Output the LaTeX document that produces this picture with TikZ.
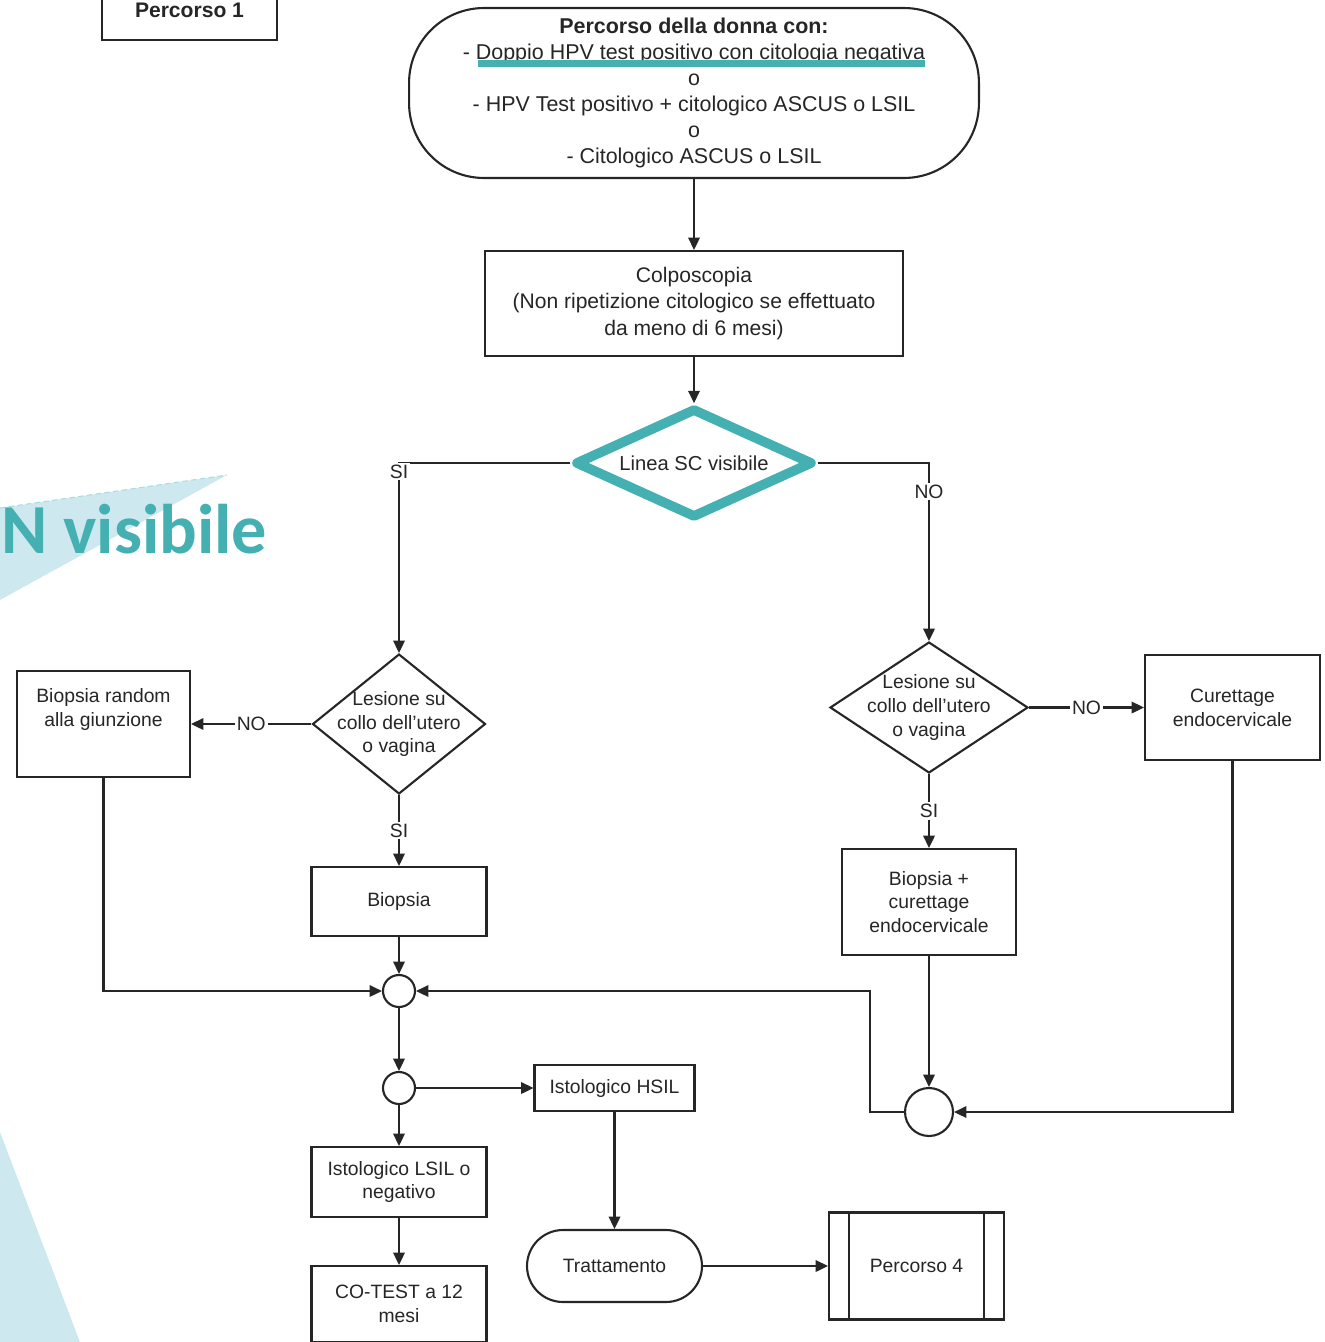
\documentclass[tikz,border=0pt]{standalone}
\usepackage{fontspec}
\setmainfont{Liberation Sans}
\newfontfamily\headfont{Carlito}
\usetikzlibrary{arrows.meta,shapes.geometric}
\definecolor{Teal}{HTML}{45B0B1}
\definecolor{Sky}{HTML}{CDE9EF}
\definecolor{Ink}{HTML}{262626}

\begin{document}
\begin{tikzpicture}[x=0.02cm,y=-0.02cm,
        box/.style={draw=Ink,line width=1.2pt,fill=white,align=center,text=Ink,font=\fontsize{11}{13.5}\selectfont,inner sep=2pt},
        term/.style={box,rounded corners=#1},
        dia/.style={draw=Ink,line width=1.2pt,fill=white,shape=diamond,inner sep=0pt},
        diatext/.style={align=center,text=Ink,font=\fontsize{11}{13.5}\selectfont},
        junc/.style={draw=Ink,line width=1.2pt,fill=white,circle,inner sep=0pt},
        lbl/.style={fill=white,inner sep=1pt,text=Ink,font=\fontsize{11}{13}\selectfont},
        arr/.style={draw=Ink,line width=1.2pt,-{Triangle[length=7pt,width=6.5pt]}}]
        \useasboundingbox (0,0) rectangle (1325,1342);
        \fill[Sky] (0,508) -- (227,475) -- (0,600) -- cycle;
        \draw[Teal!45,line width=0.6pt,dash pattern=on 3pt off 2pt] (0,508) -- (227,475);
        \fill[Sky] (0,1132) -- (80,1342) -- (0,1342) -- cycle;
        \node[anchor=base west,inner sep=0pt,text=Teal,font=\headfont\bfseries\fontsize{40}{40}\selectfont] (ttl) at (1,553) {N visibile};

        \node[box,font=\bfseries\fontsize{12}{14}\selectfont,minimum width=3.5cm,minimum height=1.2cm] (perc1) at (189.5,10) {Percorso 1};
        \node[term=1.5cm,font=\fontsize{12.2}{14.8}\selectfont,minimum width=11.4cm,minimum height=3.4cm] (start) at (694,93)
          {{\bfseries Percorso della donna con:}\\- Doppio HPV test positivo con citologia negativa\\o\\- HPV Test positivo + citologico ASCUS o LSIL\\o\\- Citologico ASCUS o LSIL};
        \fill[Teal] (478,60) rectangle (925,67);
        \node[box,font=\fontsize{12}{15}\selectfont,minimum width=8.36cm,minimum height=2.1cm] (colpo) at (694,303.5)
          {Colposcopia\\(Non ripetizione citologico se effettuato\\da meno di 6 mesi)};
        \node[dia,draw=Teal,line width=5.5pt,line join=round,minimum width=4.76cm,minimum height=2.2cm,
          label={[diatext,font=\fontsize{11.5}{14}\selectfont]center:Linea SC visibile}] (scvis) at (694,463) {};

        \node[dia,minimum width=3.46cm,minimum height=2.8cm,
          label={[diatext]center:{Lesione su\\collo dell'utero\\o vagina}}] (lesL) at (399,724) {};
        \node[dia,minimum width=3.96cm,minimum height=2.62cm,
          label={[diatext]center:{Lesione su\\collo dell'utero\\o vagina}}] (lesR) at (929,707.5) {};
        \node[box,minimum width=3.46cm,minimum height=2.12cm,
          label={[diatext,anchor=north,yshift=-0.25cm]north:{Biopsia random\\alla giunzione}}] (biorand) at (103.5,724) {};
        \node[box,minimum width=3.5cm,minimum height=1.38cm] (biopsia) at (399,901.5) {Biopsia};
        \node[box,minimum width=3.48cm,minimum height=2.12cm] (bioCur) at (929,902) {Biopsia +\\curettage\\endocervicale};
        \node[box,minimum width=3.5cm,minimum height=2.1cm] (curet) at (1232.5,707.5) {Curettage\\endocervicale};
        \foreach \n/\x/\y/\d in {j1/399/991/0.64,j3/399/1088/0.64,j2/929/1112/0.96}{
          \node[junc,minimum size=\d cm] (\n) at (\x,\y) {};}
        \node[box,minimum width=3.2cm,minimum height=0.92cm] (hsil) at (614.5,1088) {Istologico HSIL};
        \node[box,minimum width=3.5cm,minimum height=1.4cm] (lsil) at (399,1182) {Istologico LSIL o\\negativo};
        \node[box,minimum width=3.5cm,minimum height=1.52cm] (cotest) at (399,1304) {CO-TEST a 12\\mesi};
        \node[term=0.72cm,minimum width=3.5cm,minimum height=1.44cm] (tratt) at (614.5,1266) {Trattamento};
        \node[box,minimum width=3.5cm,minimum height=2.14cm] (perc4) at (916.5,1266) {Percorso 4};
        \draw[Ink,line width=1.2pt] ([xshift=0.42cm]perc4.north west) -- ([xshift=0.42cm]perc4.south west)
          ([xshift=-0.42cm]perc4.north east) -- ([xshift=-0.42cm]perc4.south east);

        \draw[arr] (start) -- (colpo);
        \draw[arr] (colpo) -- (scvis);
        \draw[arr] (scvis.west) -| node[lbl,yshift=-5]{SI} (lesL.north);
        \draw[arr] (scvis.east) -| node[lbl,pos=0.58]{NO} (lesR.north);
        \draw[arr] (lesL.west) -- node[lbl]{NO} (biorand.east);
        \draw[arr] (lesL.south) -- node[lbl]{SI} (biopsia.north);
        \draw[arr] (lesR.east) -- node[lbl]{NO} (curet.west);
        \draw[arr] (lesR.south) -- node[lbl]{SI} (bioCur.north);
        \draw[arr] (biopsia) -- (j1);
        \draw[arr] (biorand.south) |- (j1.west);
        \draw[arr] (j2.west) -- ++(-34,0) |- (j1.east);
        \draw[arr] (bioCur) -- (j2);
        \draw[arr] (curet.south) |- (j2.east);
        \draw[arr] (j1) -- (j3);
        \draw[arr] (j3) -- (hsil);
        \draw[arr] (j3) -- (lsil);
        \draw[arr] (lsil) -- (cotest);
        \draw[arr] (hsil) -- (tratt);
        \draw[arr] (tratt) -- (perc4);
      \end{tikzpicture}
\end{document}
